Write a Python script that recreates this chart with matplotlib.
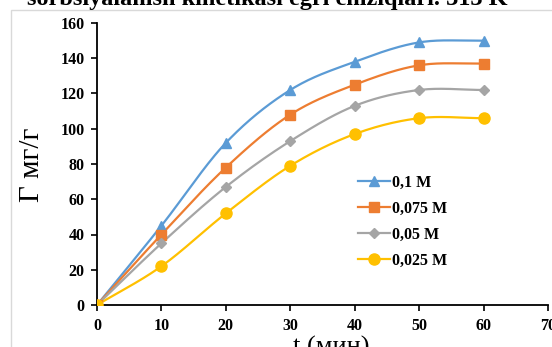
import numpy as np
import matplotlib
matplotlib.use("Agg")
import matplotlib.pyplot as plt
from matplotlib.patches import Rectangle

t = [0, 10, 20, 30, 40, 50, 60]
labels = ["0,1 M", "0,075 M", "0,05 M", "0,025 M"]
g_01 = [0, 45, 92, 122, 138, 149, 150]
g_0075 = [0, 40, 78, 108, 125, 136, 137]
g_005 = [0, 35, 67, 93, 113, 122, 122]
g_0025 = [0, 22, 52, 79, 97, 106, 106]
series = [g_01, g_0075, g_005, g_0025]
colors = ["#5B9BD5", "#ED7D31", "#A5A5A5", "#FFC000"]
markers = ["^", "s", "D", "o"]
msizes = [7, 7, 5, 8]
title = "sorbsiyalanish kinetikasi egri chiziqlari. 313 K"
xticks = [0, 10, 20, 30, 40, 50, 60, 70]
yticks = [0, 20, 40, 60, 80, 100, 120, 140, 160]


def smooth(x, y, n=30):
    x = np.asarray(x, float)
    y = np.asarray(y, float)
    px = np.concatenate([[2 * x[0] - x[1]], x, [2 * x[-1] - x[-2]]])
    py = np.concatenate([[2 * y[0] - y[1]], y, [2 * y[-1] - y[-2]]])
    xs, ys = [], []
    for i in range(1, len(px) - 2):
        s = np.linspace(0, 1, n)
        for arr, out in ((px, xs), (py, ys)):
            p0, p1, p2, p3 = arr[i - 1], arr[i], arr[i + 1], arr[i + 2]
            out.extend(0.5 * ((2 * p1) + (-p0 + p2) * s
                              + (2 * p0 - 5 * p1 + 4 * p2 - p3) * s ** 2
                              + (-p0 + 3 * p1 - 3 * p2 + p3) * s ** 3))
    return np.array(xs), np.array(ys)


fig = plt.figure(figsize=(5.52, 3.47), dpi=100)
fig.patches.append(Rectangle((11 / 552, -0.1), 1.2, 1 - 10 / 347 + 0.1,
                             transform=fig.transFigure, fill=False,
                             edgecolor="#d9d9d9", linewidth=1.0))
fig.text(27 / 552, 1 - 5 / 347, title, fontsize=17.5, fontweight="bold",
         family="Liberation Serif", va="baseline", ha="left")

ax = fig.add_axes([97 / 552, 1 - 305 / 347, 451 / 552, 282 / 347])
for y, c, m, ms, lab in zip(series, colors, markers, msizes, labels):
    sx, sy = smooth(t, y)
    ax.plot(sx, sy, color=c, lw=1.6, zorder=2)
    ax.plot(t, y, linestyle="none", marker=m, color=c, markersize=ms, zorder=3)
    ax.plot([], [], color=c, lw=1.6, marker=m, markersize=ms, label=lab)

ax.set_xlim(0, 70)
ax.set_ylim(0, 160)
ax.set_xticks(xticks)
ax.set_yticks(yticks)
for s in ["top", "right"]:
    ax.spines[s].set_visible(False)
for s in ["left", "bottom"]:
    ax.spines[s].set_linewidth(1.3)
    ax.spines[s].set_color("black")
ax.tick_params(direction="out", length=4, width=1.2, labelsize=11.5, pad=5)
for lbl in ax.get_xticklabels() + ax.get_yticklabels():
    lbl.set_fontweight("bold")
    lbl.set_family("Liberation Serif")

fig.text(32 / 552, 1 - 165 / 347, "Г мг/г", rotation=90, fontsize=21,
         family="Liberation Serif", ha="center", va="center")
fig.text(331 / 552, 1 - 354 / 347, "t (мин)", fontsize=19,
         family="Liberation Serif", ha="center", va="baseline")

leg = ax.legend(loc="upper left", frameon=False,
                prop={"family": "Liberation Serif", "weight": "bold", "size": 11.5},
                handlelength=2.0, handletextpad=0.15, labelspacing=0.62,
                borderpad=0, borderaxespad=0)
leg.set_bbox_to_anchor((358 / 552, 1 - 175 / 347), transform=fig.transFigure)

fig.savefig("out.png", dpi=100)
